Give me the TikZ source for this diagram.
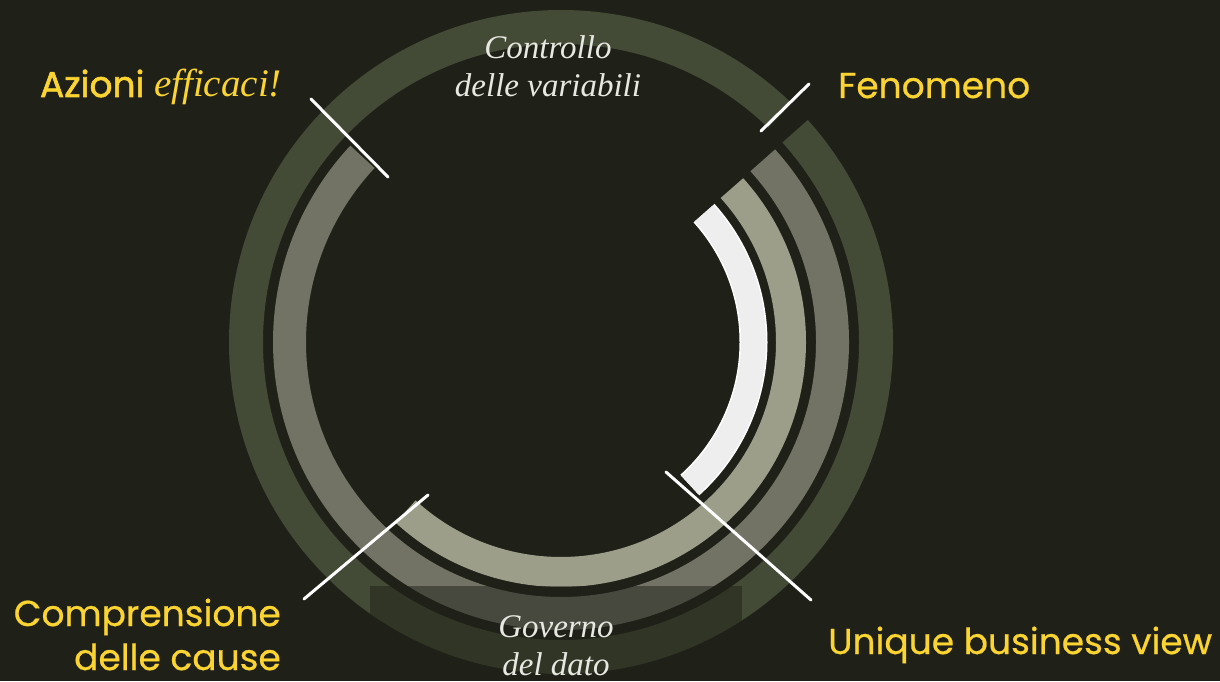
\documentclass[tikz,border=0pt]{standalone}
\usepackage{fontspec}
\setsansfont{Poppins}
\newfontfamily\labfont{Poppins}[FakeBold=0.6]
\newfontfamily\azfont{Poppins}[FakeBold=1.6]
\newfontfamily\capfont{Liberation Serif}
\usetikzlibrary{positioning}
\definecolor{bg}{HTML}{1F2118}
\definecolor{moss}{HTML}{434A36}
\definecolor{slate}{HTML}{727265}
\definecolor{sage}{HTML}{9C9E8A}
\definecolor{chalk}{HTML}{EEEEEE}
\definecolor{gold}{HTML}{FBD431}
\definecolor{mist}{HTML}{E8E8E2}

\begin{document}
\begin{tikzpicture}[x=1pt,y=1pt,
  ring/.style={line width=#1,line cap=butt},
  tick/.style={draw=white,line width=3pt,line cap=round},
  lab/.style={text=gold,font=\labfont\fontsize{36}{44}\selectfont,inner sep=0pt},
  caption/.style={text=mist,font=\capfont\itshape\fontsize{33}{38}\selectfont,align=center,inner sep=0pt}]
\useasboundingbox (0,0) rectangle (1220,681);
\fill[bg] (0,0) rectangle (1220,681);
\coordinate (c) at (561,339);
% rings, all cut at 42 deg
\draw[ring=34pt,moss] (c) ++(42:315) arc (42:-314:315);
\draw[ring=33pt,slate] (c) ++(42:271.5) arc (42:-223:271.5);
\draw[ring=30pt,sage] (c) ++(42:230) arc (42:-132.5:230);
\draw[ring=28pt,white] (c) ++(42:192.5) arc (42:-48:192.5);
\draw[ring=25pt,chalk] (c) ++(42:192.5) arc (42:-48:192.5);
% veil under the bottom caption
\fill[bg,opacity=0.5] (370,0) rectangle (742,95);
% ticks
\coordinate (az1) at (311,582); \coordinate (az2) at (388,504);
\coordinate (fe1) at (809,597); \coordinate (fe2) at (761,550);
\coordinate (co1) at (428,186); \coordinate (co2) at (304,82);
\coordinate (un1) at (666,209); \coordinate (un2) at (811,81);
\draw[tick] (az1) -- (az2);
\draw[tick] (fe1) -- (fe2);
\draw[tick] (co1) -- (co2);
\draw[tick] (un1) -- (un2);
% labels (base = last line)
\node[lab,anchor=base east] (azioni) at (282,584) {\azfont Azioni {\capfont\itshape\fontsize{39}{44}\selectfont efficaci!}};
\node[lab,anchor=base west] (fenomeno) at (838,583) {Fenomeno};
\node[lab,anchor=base east,align=right] (cause) at (281,11) {Comprensione\\delle cause};
\node[lab,anchor=base west] (unique) at (828,27) {Unique business view};
\node[caption,anchor=base] (controllo) at (548,584) {Controllo\\delle variabili};
\node[caption,anchor=base] (governo) at (556,6) {Governo\\del dato};
\end{tikzpicture}
\end{document}
